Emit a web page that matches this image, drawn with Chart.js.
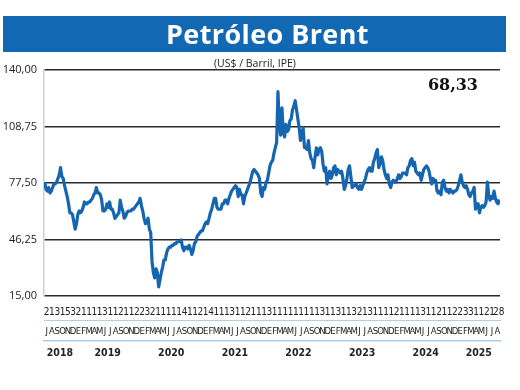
<!DOCTYPE html>
<html lang="es">
<head>
<meta charset="utf-8">
<title>Petróleo Brent</title>
<script src="https://cdn.jsdelivr.net/npm/chart.js@4/dist/chart.umd.min.js"></script>
<style>
    html, body { margin: 0; padding: 0; background: #fff; }
    #lienzo { position: relative; width: 520px; height: 390px; overflow: hidden; }
    #lienzo canvas { position: absolute; left: 0; top: 0; }
    .cabecera {
        position: absolute; left: 3px; top: 16px; width: 503px; height: 36px;
        background: #1268b3; color: #fff; text-align: center; box-sizing: border-box; padding-left: 26px;
        font: bold 27px "Open Sans", sans-serif; line-height: 36px; letter-spacing: 0.4px;
    }
    .subtitulo {
        position: absolute; left: 0; width: 510px; top: 56px; text-align: center;
        font: 10.5px "Open Sans", sans-serif; color: #222;
    }
    .ultimo {
        position: absolute; right: 42px; top: 75px;
        font: bold 16px "DejaVu Serif", serif; color: #111;
    }
</style>
</head>
<body>
<div id="lienzo">
    <canvas id="brentChart" width="520" height="390"></canvas>
    <div class="cabecera">Petróleo Brent</div>
    <div class="subtitulo">(US$ / Barril, IPE)</div>
    <div class="ultimo">68,33</div>
</div>
<script>
// Precios semanales aproximados (4 por mes)
const precios2018 = [78, 74, 73, 75, 72, 73, 75, 77, 77, 78, 80, 82, 86, 81, 80, 76, 73, 70, 66, 61, 61, 60, 56, 52];
const precios2019 = [55, 60, 62, 61, 62, 64, 67, 66, 66, 67, 67, 68, 69, 71, 72, 75, 72, 72, 71, 68, 62, 62, 63, 66,
                     64, 67, 63, 63, 61, 58, 59, 60, 61, 68, 64, 62, 58, 59, 61, 62, 62, 62, 63, 63, 64, 65, 66, 67];
const precios2020 = [69, 65, 62, 58, 55, 56, 58, 52, 50, 34, 28, 25, 30, 28, 20, 24, 28, 31, 35, 35, 39, 41, 42, 42,
                     43, 43, 44, 44, 45, 45, 45, 46, 42, 40, 42, 42, 41, 43, 41, 38, 40, 44, 45, 48, 49, 50, 51, 51];
const precios2021 = [53, 55, 56, 55, 58, 61, 63, 66, 69, 69, 64, 63, 63, 63, 66, 66, 68, 68, 66, 69, 71, 73, 74, 75,
                     76, 75, 70, 74, 71, 71, 66, 70, 72, 74, 76, 78, 81, 84, 85, 84, 83, 82, 80, 72, 70, 75, 74, 78];
const precios2022 = [79, 83, 87, 89, 90, 94, 97, 100, 128, 110, 104, 119, 106, 103, 110, 106, 107, 112, 113, 118, 120, 123, 118, 113,
                     108, 101, 105, 108, 97, 97, 96, 101, 94, 91, 90, 86, 92, 97, 93, 96, 97, 95, 88, 84, 86, 77, 82, 84];
const precios2023 = [80, 82, 86, 87, 82, 85, 84, 83, 84, 80, 74, 76, 80, 85, 87, 81, 75, 76, 76, 77, 75, 74, 76, 74,
                     76, 78, 80, 83, 85, 86, 84, 84, 89, 91, 94, 96, 86, 88, 92, 90, 85, 82, 80, 82, 77, 75, 78, 79];
const precios2024 = [78, 78, 80, 82, 80, 81, 83, 83, 83, 82, 86, 87, 90, 91, 87, 89, 84, 83, 82, 83, 79, 82, 85, 86,
                     87, 86, 84, 80, 77, 80, 79, 79, 73, 72, 73, 71, 78, 79, 75, 73, 74, 72, 74, 73, 72, 73, 73, 74];
const precios2025 = [76, 79, 82, 78, 76, 75, 76, 74, 71, 70, 72, 73, 75, 63, 66, 66, 61, 64, 65, 64, 65, 67, 78, 71,
                     68, 70, 69, 73, 69, 67, 66, 68.33];

const anios = ['2018', '2019', '2020', '2021', '2022', '2023', '2024', '2025'];
const mesesPorAnio = [6, 12, 12, 12, 12, 12, 12, 8];
const iniciales = ['E', 'F', 'M', 'A', 'M', 'J', 'J', 'A', 'S', 'O', 'N', 'D'];
const etiquetasDias = [
    '2', '1', '3', '1', '5', '3', '2', '1', '1', '1', '1', '3', '1', '1', '2', '1', '1', '2', '2', '3', '2', '1',
    '1', '1', '1', '1', '4', '1', '1', '2', '1', '4', '1', '1', '1', '3', '1', '1', '2', '1', '1', '1', '3',
    '1', '1', '1', '1', '1', '1', '1', '1', '1', '3', '1', '1', '3', '1', '1', '3', '2', '1', '3', '1', '1',
    '1', '1', '2', '1', '1', '1', '1', '3', '1', '1', '2', '1', '1', '2', '2', '3', '3', '1', '1', '2', '1', '.28'
];
const ticksY = [15, 46.25, 77.5, 108.75, 140];

// Arma los puntos: cada precio cae en su semana dentro del mes
const preciosPorAnio = [precios2018, precios2019, precios2020, precios2021, precios2022, precios2023, precios2024, precios2025];
const puntos = [];
const etiquetasMeses = [];
const centrosAnio = [];
let desde = 0;
preciosPorAnio.forEach((precios, a) => {
    precios.forEach((valor, i) => {
        puntos.push({ x: desde + (i + 0.5) / 4, y: valor });
    });
    const primerMes = a === 0 ? 6 : 0;
    for (let m = 0; m < mesesPorAnio[a]; m++) {
        etiquetasMeses.push(iniciales[primerMes + m]);
    }
    centrosAnio.push(desde + mesesPorAnio[a] / 2);
    desde += mesesPorAnio[a];
});
const totalMeses = desde;

const fuenteAngosta = "'Liberation Sans Narrow', 'DejaVu Sans Condensed', sans-serif";

new Chart(document.getElementById('brentChart'), {
    type: 'line',
    data: {
        datasets: [{
            data: puntos,
            borderColor: '#1565b0',
            borderWidth: 3.2,
            borderJoinStyle: 'round',
            pointRadius: 0,
            tension: 0
        }]
    },
    options: {
        responsive: false,
        animation: false,
        events: [],
        layout: { padding: { top: 70, right: 20, bottom: 28, left: 0 } },
        plugins: { legend: { display: false }, tooltip: { enabled: false } },
        scales: {
            x: {
                type: 'linear',
                display: false,
                min: 0,
                max: totalMeses
            },
            xDias: {
                type: 'category',
                position: 'bottom',
                weight: 1,
                labels: etiquetasDias,
                offset: true,
                grid: { display: false, drawTicks: false },
                border: { display: false },
                ticks: {
                    autoSkip: false, maxRotation: 0, minRotation: 0, padding: 10,
                    color: '#222', font: { family: fuenteAngosta, size: 10 }
                },
                afterFit: (scale) => { scale.height = 24; }
            },
            xMeses: {
                type: 'category',
                position: 'bottom',
                weight: 2,
                labels: etiquetasMeses,
                offset: true,
                grid: { display: false, drawTicks: false },
                border: { display: true, color: '#b4cde4', width: 1, dash: [4, 3] },
                ticks: {
                    autoSkip: false, maxRotation: 0, minRotation: 0, padding: 6,
                    color: '#222', font: { family: fuenteAngosta, size: 9.5 }
                },
                afterFit: (scale) => { scale.height = 21; }
            },
            xAnios: {
                type: 'linear',
                position: 'bottom',
                weight: 3,
                min: 0,
                max: totalMeses,
                afterBuildTicks: (scale) => {
                    scale.ticks = centrosAnio.map(v => ({ value: v }));
                },
                grid: { display: false, drawTicks: false },
                border: { display: true, color: '#a9cdea', width: 1.5 },
                ticks: {
                    autoSkip: false, maxRotation: 0, minRotation: 0, padding: 6,
                    color: '#222', font: { family: fuenteAngosta, size: 10.5, weight: 'bold' },
                    callback: (valor, i) => anios[i]
                },
                afterFit: (scale) => { scale.height = 21; }
            },
            y: {
                min: 15,
                max: 140,
                afterBuildTicks: (scale) => {
                    scale.ticks = ticksY.map(v => ({ value: v }));
                },
                grid: { color: '#2a2a2a', lineWidth: 1.6, drawTicks: false },
                border: { display: true, color: '#d0d0d0', width: 1.5 },
                ticks: {
                    padding: 7,
                    color: '#222',
                    font: { family: "'Open Sans', sans-serif", size: 11 },
                    callback: (valor) => valor.toFixed(2).replace('.', ',')
                },
                afterFit: (scale) => { scale.width = 44; }
            }
        }
    }
});
</script>
</body>
</html>
